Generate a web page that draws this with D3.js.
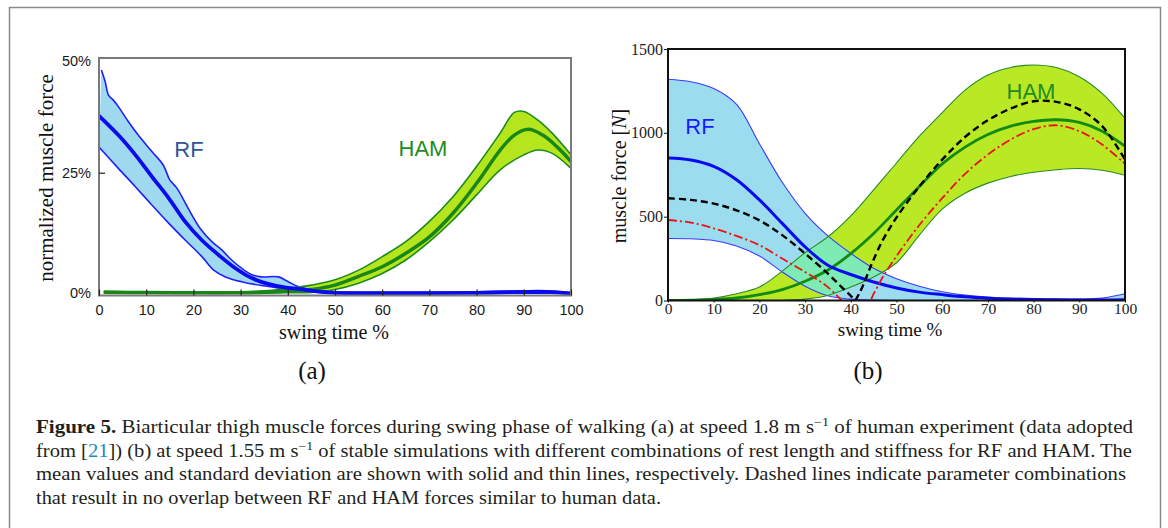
<!DOCTYPE html>
<html>
<head>
<meta charset="utf-8">
<script src="https://cdn.jsdelivr.net/npm/d3@7"></script>
<style>
  body { margin: 0; background: #fff; }
  svg { display: block; }
</style>
</head>
<body>
<svg id="fig" width="1168" height="528"></svg>
<script>
// ---- panel (a): human experiment, normalized force in % ----
const aRfUpperX = [0.5, 1.3, 2, 3, 4.1, 6.2, 8.3, 11.2, 13.6, 15, 16.5, 18.9, 21.4, 23.9, 26, 28.1, 30.2, 32.3, 34.4, 38, 40.1, 42.2, 46, 50, 60, 70, 80, 90, 95, 100]
const aRfUpper = [46.3, 43.9, 41.1, 40.1, 38.7, 35.6, 32.8, 29.4, 26.6, 23.5, 21.8, 17.6, 13.5, 10.7, 9.0, 6.9, 5.2, 3.9, 3.4, 3.4, 2.4, 1.4, 0.6, 0.3, 0.2, 0.2, 0.3, 0.5, 0.5, 0.1]
const aRfMeanX = [0, 4.1, 7.7, 11.2, 14.8, 18.3, 21.8, 25.4, 28.9, 32.5, 36, 39.6, 43.1, 47, 50, 60, 70, 80, 90, 95, 100]
const aRfMean = [36.8, 32.8, 28.7, 24.2, 19.7, 14.8, 11.0, 7.9, 5.2, 3.1, 1.9, 1.2, 0.8, 0.3, 0.1, 0.05, 0.05, 0.1, 0.3, 0.3, 0]
const aRfLowerX = [0, 4.1, 7.7, 11.2, 14.8, 18.3, 21.8, 24.3, 26.8, 30.2, 34.4, 39.6, 43.1, 48, 52, 60, 80, 100]
const aRfLower = [30.3, 25.9, 22.1, 18.3, 14.5, 11.0, 7.6, 4.8, 3.4, 2.4, 1.6, 0.9, 0.5, 0.2, 0, 0, 0, 0]

const aHamUpperX = [1, 10, 20, 30, 35, 40, 45, 50, 55, 60, 65, 70, 75, 80, 85, 88, 90, 93, 96, 100]
const aHamUpper = [0.4, 0.3, 0.3, 0.3, 0.5, 1.0, 1.7, 2.8, 4.8, 7.6, 10.7, 14.9, 20.0, 26.3, 33.2, 37.5, 37.7, 35.9, 33.2, 28.7]
const aHamMeanX = [1, 10, 20, 30, 35, 40, 45, 50, 55, 60, 65, 70, 75, 80, 85, 88, 91, 94, 97, 100]
const aHamMean = [0.2, 0.15, 0.1, 0.1, 0.2, 0.5, 0.8, 1.7, 3.5, 5.5, 8.3, 11.7, 16.6, 22.8, 29.7, 32.8, 34.0, 32.8, 30.4, 27.3]
const aHamLowerX = [1, 10, 20, 30, 40, 45, 50, 55, 60, 65, 70, 75, 80, 85, 90, 93, 96, 100]
const aHamLower = [0, 0, 0, 0, 0.1, 0.2, 0.8, 2.1, 4.1, 6.9, 10.7, 15.2, 20.4, 25.6, 28.7, 29.7, 29.0, 25.9]

const aXTicks = [0, 10, 20, 30, 40, 50, 60, 70, 80, 90, 100]
const aYTicks = [0, 25, 50]

// ---- panel (b): simulations, force in N ----
const bX = [0, 5, 10, 15, 20, 25, 30, 35, 40, 45, 50, 55, 60, 65, 70, 75, 80, 85, 90, 95, 100]
const bRfUpper = [1320, 1305, 1265, 1170, 935, 705, 520, 385, 281, 192, 130, 85, 52, 32, 20, 13, 10, 9, 9, 14, 40]
const bRfMean = [850, 838, 800, 720, 600, 460, 320, 210, 155, 110, 75, 50, 35, 22, 14, 9, 6, 4, 3, 3, 5]
const bRfLower = [370, 368, 358, 325, 265, 170, 85, 28, 8, 2, 0, 0, 0, 0, 0, 0, 0, 0, 0, 0, 0]
const bHamUpper = [0, 5, 15, 40, 80, 175, 285, 380, 505, 660, 820, 980, 1120, 1255, 1345, 1390, 1405, 1390, 1335, 1235, 1086]
const bHamMean = [0, 2, 6, 15, 35, 65, 115, 182, 280, 400, 540, 680, 815, 915, 990, 1040, 1068, 1078, 1062, 1010, 920]
const bHamLower = [0, 0, 0, 0, 0, 0, 8, 30, 80, 140, 225, 390, 545, 640, 700, 740, 765, 780, 787, 777, 747]

const bDashRfX = [0, 5, 10, 15, 20, 25, 30, 35, 38, 40, 41]
const bDashRf = [610, 600, 578, 538, 478, 390, 280, 160, 80, 28, 0]
const bDashHamX = [41, 42, 43, 44, 45, 47, 50, 55, 60, 65, 70, 75, 80, 85, 90, 95, 100]
const bDashHam = [0, 50, 110, 180, 245, 360, 495, 680, 840, 975, 1075, 1145, 1188, 1185, 1140, 1040, 840]
const bDotRfX = [0, 5, 10, 15, 20, 25, 30, 35, 38]
const bDotRf = [480, 465, 430, 385, 330, 250, 170, 80, 0]
const bDotHamX = [0, 44, 45, 47, 50, 55, 60, 65, 70, 75, 80, 85, 90, 95, 100]
const bDotHam = [0, 0, 40, 140, 265, 450, 610, 755, 870, 960, 1022, 1045, 1010, 930, 815]

const bXTicks = [0, 10, 20, 30, 40, 50, 60, 70, 80, 90, 100]
const bYTicks = [0, 500, 1000, 1500]

const captionLines = [
  [{ t: 'Figure 5.', bold: true }, { t: ' Biarticular thigh muscle forces during swing phase of walking (a) at speed 1.8 m s' }, { t: '\u22121', sup: true }, { t: ' of human experiment (data adopted' }],
  [{ t: 'from [' }, { t: '21', color: '#1b8bc6' }, { t: ']) (b) at speed 1.55 m s' }, { t: '\u22121', sup: true }, { t: ' of stable simulations with different combinations of rest length and stiffness for RF and HAM. The' }],
  [{ t: 'mean values and standard deviation are shown with solid and thin lines, respectively. Dashed lines indicate parameter combinations' }],
  [{ t: 'that result in no overlap between RF and HAM forces similar to human data.' }]
]
const captionWidths = [1097, 1096, 1090, 625]

const SERIF = '"Liberation Serif", "DejaVu Serif", serif'
const SANS = '"Liberation Sans", Arial, sans-serif'

const svg = d3.select('#fig')
const defs = svg.append('defs')

svg.append('rect').attr('width', 1168).attr('height', 528).attr('fill', '#fff')

// outer figure frame (open at the bottom, cut by the window)
svg.append('path')
  .attr('d', 'M9.5,540 V7.5 H1160.5 V540')
  .attr('fill', 'none')
  .attr('stroke', '#8a8a8a')
  .attr('stroke-width', 1.5)

function smoothLine (x, y) {
  return d3.line()
    .x(d => x(d[0]))
    .y(d => y(d[1]))
    .curve(d3.curveCatmullRom.alpha(0.5))
}

function bandPath (x, y, ux, uy, lx, ly) {
  const line = smoothLine(x, y)
  const top = line(d3.zip(ux, uy))
  const bottom = line(d3.zip(lx, ly).reverse())
  return top + 'L' + bottom.slice(1) + 'Z'
}

function drawCurve (g, x, y, xs, ys, style) {
  g.append('path')
    .attr('d', smoothLine(x, y)(d3.zip(xs, ys)))
    .attr('fill', 'none')
    .attr('stroke', style.color)
    .attr('stroke-width', style.width)
    .attr('stroke-dasharray', style.dash || null)
    .attr('stroke-linejoin', 'round')
}

/**
 * Draws the two shaded bands (RF and HAM) with their overlap tinted,
 * then the band edges. Mean lines are drawn by the caller.
 */
function drawBands (g, id, x, y, rf, ham, colors) {
  const rfBand = bandPath(x, y, rf.ux, rf.u, rf.lx, rf.l)
  const hamBand = bandPath(x, y, ham.ux, ham.u, ham.lx, ham.l)

  defs.append('clipPath').attr('id', `ham-band-${id}`)
    .append('path').attr('d', hamBand)

  g.append('path').attr('d', rfBand).attr('fill', colors.rfFill)
  g.append('path').attr('d', hamBand).attr('fill', colors.hamFill)
  g.append('path').attr('d', rfBand).attr('fill', colors.overlap)
    .attr('clip-path', `url(#ham-band-${id})`)

  drawCurve(g, x, y, rf.ux, rf.u, { color: colors.rfEdge, width: colors.edgeWidth })
  drawCurve(g, x, y, rf.lx, rf.l, { color: colors.rfEdge, width: colors.edgeWidth })
  drawCurve(g, x, y, ham.ux, ham.u, { color: colors.hamEdge, width: colors.edgeWidth })
  drawCurve(g, x, y, ham.lx, ham.l, { color: colors.hamEdge, width: colors.edgeWidth })
}

function plotClip (id, box) {
  defs.append('clipPath').attr('id', id)
    .append('rect')
    .attr('x', box.left).attr('y', box.top - 1)
    .attr('width', box.right - box.left).attr('height', box.bottom - box.top + 1)
}

// ================= panel (a) =================
const aBox = { left: 99, right: 571, top: 58, bottom: 295.5 }
const xA = d3.scaleLinear().domain([0, 100]).range([aBox.left, aBox.right])
const yA = d3.scaleLinear().domain([0, 50]).range([293.3, 52.1])

plotClip('clip-a', aBox)
const gA = svg.append('g')
const plotA = gA.append('g').attr('clip-path', 'url(#clip-a)')

drawBands(plotA, 'a', xA, yA,
  { ux: aRfUpperX, u: aRfUpper, lx: aRfLowerX, l: aRfLower },
  { ux: aHamUpperX, u: aHamUpper, lx: aHamLowerX, l: aHamLower },
  { rfFill: '#9fd9ef', hamFill: '#b5e61d', overlap: '#8ae3b0', rfEdge: '#1f1fff', hamEdge: '#1e8a1e', edgeWidth: 1.6 })
drawCurve(plotA, xA, yA, aHamMeanX, aHamMean, { color: '#1a861a', width: 3.5 })
drawCurve(plotA, xA, yA, aRfMeanX, aRfMean, { color: '#0a0af0', width: 3.8 })

gA.append('rect')
  .attr('x', aBox.left).attr('y', aBox.top)
  .attr('width', aBox.right - aBox.left).attr('height', aBox.bottom - aBox.top)
  .attr('fill', 'none').attr('stroke', '#7a7a7a').attr('stroke-width', 2)

const aXAxis = gA.append('g')
  .attr('transform', `translate(0,${aBox.bottom})`)
  .call(d3.axisBottom(xA).tickValues(aXTicks).tickSize(-6).tickPadding(9))
const aYAxis = gA.append('g')
  .attr('transform', `translate(${aBox.left},0)`)
  .call(d3.axisLeft(yA).tickValues(aYTicks).tickFormat(d => d + '%').tickSize(-6).tickPadding(8))

aYAxis.selectAll('.tick').filter(d => d === 50)
  .attr('transform', `translate(0,${aBox.top + 3})`)
aYAxis.selectAll('.tick').filter(d => d !== 25).select('line').remove()

for (const ax of [aXAxis, aYAxis]) {
  ax.select('.domain').remove()
  ax.selectAll('.tick line').attr('stroke', '#222').attr('stroke-width', 1.2)
  ax.selectAll('.tick text')
    .attr('fill', '#1a1a1a')
    .style('font-family', SANS)
    .style('font-size', '14.5px')
}

gA.append('text')
  .attr('transform', 'translate(46,178) rotate(-90)')
  .attr('text-anchor', 'middle')
  .attr('dominant-baseline', 'central')
  .style('font-family', SERIF).style('font-size', '21px').attr('fill', '#111')
  .text('normalized muscle force')
gA.append('text')
  .attr('x', 334).attr('y', 339)
  .attr('text-anchor', 'middle')
  .style('font-family', SERIF).style('font-size', '20px').attr('fill', '#111')
  .text('swing time %')
gA.append('text')
  .attr('x', 189).attr('y', 157)
  .attr('text-anchor', 'middle')
  .style('font-family', SANS).style('font-size', '22px').attr('fill', '#2f5597')
  .text('RF')
gA.append('text')
  .attr('x', 423).attr('y', 156)
  .attr('text-anchor', 'middle')
  .style('font-family', SANS).style('font-size', '22px').attr('fill', '#1e8c1e')
  .text('HAM')
gA.append('text')
  .attr('x', 312).attr('y', 379)
  .attr('text-anchor', 'middle')
  .style('font-family', SERIF).style('font-size', '25px').attr('fill', '#111')
  .text('(a)')

// ================= panel (b) =================
const bBox = { left: 668, right: 1125, top: 49, bottom: 300.5 }
const xB = d3.scaleLinear().domain([0, 100]).range([bBox.left, bBox.right])
const yB = d3.scaleLinear().domain([0, 1500]).range([bBox.bottom, bBox.top])

plotClip('clip-b', bBox)
const gB = svg.append('g')
const plotB = gB.append('g').attr('clip-path', 'url(#clip-b)')

drawBands(plotB, 'b', xB, yB,
  { ux: bX, u: bRfUpper, lx: bX, l: bRfLower },
  { ux: bX, u: bHamUpper, lx: bX, l: bHamLower },
  { rfFill: '#9cdcef', hamFill: '#b9e824', overlap: '#7eeab4', rfEdge: '#3a3aff', hamEdge: '#2a8a2a', edgeWidth: 1.1 })

drawCurve(plotB, xB, yB, bX, bHamMean, { color: '#138a13', width: 2.8 })
drawCurve(plotB, xB, yB, bX, bRfMean, { color: '#0a0af0', width: 3 })
drawCurve(plotB, xB, yB, bDotRfX, bDotRf, { color: '#ee1111', width: 1.8, dash: '9,3,2,3' })
drawCurve(plotB, xB, yB, bDotHamX, bDotHam, { color: '#ee1111', width: 1.8, dash: '9,3,2,3' })
drawCurve(plotB, xB, yB, bDashRfX, bDashRf, { color: '#000', width: 2.4, dash: '7,4' })
drawCurve(plotB, xB, yB, bDashHamX, bDashHam, { color: '#000', width: 2.4, dash: '7,4' })

gB.append('rect')
  .attr('x', bBox.left).attr('y', bBox.top)
  .attr('width', bBox.right - bBox.left).attr('height', bBox.bottom - bBox.top)
  .attr('fill', 'none').attr('stroke', '#111').attr('stroke-width', 2)

const bXAxis = gB.append('g')
  .attr('transform', `translate(0,${bBox.bottom})`)
  .call(d3.axisBottom(xB).tickValues(bXTicks).tickSize(2).tickPadding(0))
const bYAxis = gB.append('g')
  .attr('transform', `translate(${bBox.left},0)`)
  .call(d3.axisLeft(yB).tickValues(bYTicks).tickFormat(d3.format('d')).tickSize(4).tickPadding(1))

for (const ax of [bXAxis, bYAxis]) {
  ax.select('.domain').remove()
  ax.selectAll('.tick line').attr('stroke', '#111')
  ax.selectAll('.tick text')
    .attr('fill', '#222')
    .style('font-family', SERIF)
    .style('font-size', '16px')
}
bXAxis.selectAll('.tick text').style('font-size', '15.5px')

const bYLabel = gB.append('text')
  .attr('transform', 'translate(619,176) rotate(-90)')
  .attr('text-anchor', 'middle')
  .attr('dominant-baseline', 'central')
  .style('font-family', SERIF).style('font-size', '20px').attr('fill', '#111')
bYLabel.append('tspan').text('muscle force [')
bYLabel.append('tspan').style('font-style', 'italic').text('N')
bYLabel.append('tspan').text(']')

gB.append('text')
  .attr('x', 890).attr('y', 336)
  .attr('text-anchor', 'middle')
  .style('font-family', SERIF).style('font-size', '19px').attr('fill', '#111')
  .text('swing time %')
gB.append('text')
  .attr('x', 700).attr('y', 134)
  .attr('text-anchor', 'middle')
  .style('font-family', SANS).style('font-size', '22px').attr('fill', '#1a1aff')
  .text('RF')
gB.append('text')
  .attr('x', 1031).attr('y', 99)
  .attr('text-anchor', 'middle')
  .style('font-family', SANS).style('font-size', '22px').attr('fill', '#1f8c1f')
  .text('HAM')
gB.append('text')
  .attr('x', 868).attr('y', 379)
  .attr('text-anchor', 'middle')
  .style('font-family', SERIF).style('font-size', '25px').attr('fill', '#111')
  .text('(b)')

// ================= caption =================
const caption = svg.append('g')
  .style('font-family', SERIF)
  .style('font-size', '18px')
  .attr('fill', '#231f20')

captionLines.forEach((segments, i) => {
  const text = caption.append('text')
    .attr('x', 36)
    .attr('y', 433 + i * 23.5)
    .attr('textLength', captionWidths[i])
    .attr('lengthAdjust', 'spacingAndGlyphs')
  let raised = false
  for (const seg of segments) {
    const span = text.append('tspan').text(seg.t)
    if (seg.bold) span.style('font-weight', 'bold')
    if (seg.color) span.attr('fill', seg.color)
    if (seg.sup) {
      span.attr('dy', -7).style('font-size', '12px')
      raised = true
    } else if (raised) {
      span.attr('dy', 7)
      raised = false
    }
  }
})
</script>
</body>
</html>
